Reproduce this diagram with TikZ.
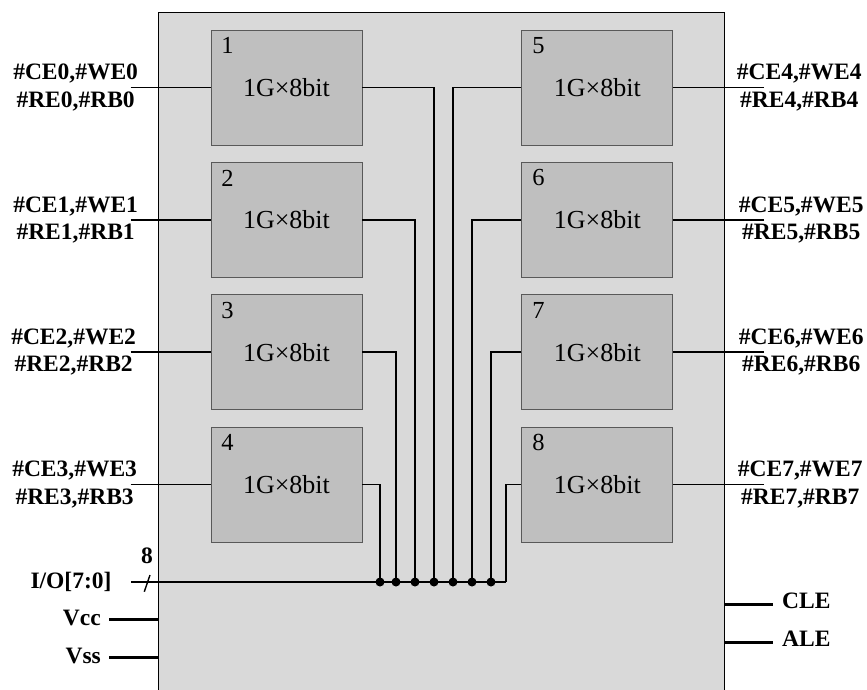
\documentclass[tikz,border=0pt]{standalone}
\usepackage{fontspec}
\setmainfont{Liberation Serif}
\usetikzlibrary{positioning}

\begin{document}
\begin{tikzpicture}[x=1pt,y=-1pt,
    chip/.style={rectangle,draw=black!65,fill=black!25,line width=0.8pt,minimum width=151pt,minimum height=115pt,inner sep=0pt,font=\fontsize{26}{28}\selectfont},
    num/.style={inner sep=0pt,font=\fontsize{24.5}{26}\selectfont},
    sig/.style={align=center,inner sep=0pt,font=\fontsize{23.5}{27.3}\selectfont\bfseries},
    wire/.style={line width=1.4pt},
    bus/.style={line width=2.8pt},
    pin/.style={line width=3pt},
    tap/.style={circle,fill=black,inner sep=0pt,minimum size=9pt}]
    \clip (0,0) rectangle (867,689);
    \draw[fill=black!15,line width=1pt] (158,12) rectangle (724,720);

    \node[chip] (1) at (286.5,87.5) {1G×8bit};
    \node[chip] (2) [below=16.5pt of 1] {1G×8bit};
    \node[chip] (3) [below=16.5pt of 2] {1G×8bit};
    \node[chip] (4) [below=16.5pt of 3] {1G×8bit};
    \node[chip] (5) [right=159pt of 1] {1G×8bit};
    \node[chip] (6) [below=16.5pt of 5] {1G×8bit};
    \node[chip] (7) [below=16.5pt of 6] {1G×8bit};
    \node[chip] (8) [below=16.5pt of 7] {1G×8bit};

    \node[num] at ([shift={(17,16)}]1.north west) {1};
    \node[num] at ([shift={(17,16)}]2.north west) {2};
    \node[num] at ([shift={(17,16)}]3.north west) {3};
    \node[num] at ([shift={(17,16)}]4.north west) {4};
    \node[num] at ([shift={(17,16)}]5.north west) {5};
    \node[num] at ([shift={(17,16)}]6.north west) {6};
    \node[num] at ([shift={(17,16)}]7.north west) {7};
    \node[num] at ([shift={(17,16)}]8.north west) {8};

    % chip enable / control lines
    \node[sig] (l1) at ([xshift=-135pt]1.west) {\#CE0,\#WE0\\\#RE0,\#RB0};
    \node[sig] (l2) at ([xshift=-135pt]2.west) {\#CE1,\#WE1\\\#RE1,\#RB1};
    \node[sig] (l3) at ([xshift=-137pt]3.west) {\#CE2,\#WE2\\\#RE2,\#RB2};
    \node[sig] (l4) at ([xshift=-136pt]4.west) {\#CE3,\#WE3\\\#RE3,\#RB3};
    \node[sig] (l5) at ([xshift=126pt]5.east) {\#CE4,\#WE4\\\#RE4,\#RB4};
    \node[sig] (l6) at ([xshift=128pt]6.east) {\#CE5,\#WE5\\\#RE5,\#RB5};
    \node[sig] (l7) at ([xshift=128pt]7.east) {\#CE6,\#WE6\\\#RE6,\#RB6};
    \node[sig] (l8) at ([xshift=127pt]8.east) {\#CE7,\#WE7\\\#RE7,\#RB7};

    \coordinate (w1) at ([xshift=-80pt]1.west);
    \coordinate (w2) at ([xshift=-80pt]2.west);
    \coordinate (w3) at ([xshift=-80pt]3.west);
    \coordinate (w4) at ([xshift=-80pt]4.west);
    \coordinate (w5) at ([xshift=91pt]5.east);
    \coordinate (w6) at ([xshift=91pt]6.east);
    \coordinate (w7) at ([xshift=91pt]7.east);
    \coordinate (w8) at ([xshift=91pt]8.east);
    \draw[wire] (w1) -- (1.west) (w2) -- (2.west) (w3) -- (3.west) (w4) -- (4.west);
    \draw[wire] (w5) -- (5.east) (w6) -- (6.east) (w7) -- (7.east) (w8) -- (8.east);

    % data bus
    \coordinate (io) at (131,582);
    \coordinate (t1) at (434,582);
    \coordinate (t2) at (415,582);
    \coordinate (t3) at (396,582);
    \coordinate (t4) at (380,582);
    \coordinate (t5) at (453,582);
    \coordinate (t6) at (472,582);
    \coordinate (t7) at (491,582);
    \coordinate (t8) at (506,582);
    \draw[wire] (1.east) -| (t1);
    \draw[wire] (2.east) -| (t2);
    \draw[wire] (3.east) -| (t3);
    \draw[wire] (4.east) -| (t4);
    \draw[wire] (5.west) -| (t5);
    \draw[wire] (6.west) -| (t6);
    \draw[wire] (7.west) -| (t7);
    \draw[wire] (8.west) -| (t8);
    \draw[bus] (io) -- (t8);
    \node[tap] at (t1) {};
    \node[tap] at (t2) {};
    \node[tap] at (t3) {};
    \node[tap] at (t4) {};
    \node[tap] at (t5) {};
    \node[tap] at (t6) {};
    \node[tap] at (t7) {};
    \draw[wire] (144.3,591.7) -- (150,575);
    \node[sig] (width) at (147,556) {8};
    \node[sig] (iolabel) at (71,582) {I/O[7:0]};

    % power and latch pins
    \node[sig,anchor=east] (vcc) at (101,618) {Vcc};
    \node[sig,anchor=east] (vss) at (101,656) {Vss};
    \node[sig,anchor=west] (cle) at (782,601) {CLE};
    \node[sig,anchor=west] (ale) at (782,639) {ALE};
    \coordinate (vccend) at (109,619);
    \coordinate (vssend) at (109,657);
    \coordinate (cleend) at (773,604);
    \coordinate (aleend) at (773,642);
    \draw[pin] (vccend) -- (158,619) (vssend) -- (158,657);
    \draw[pin] (724,604) -- (cleend) (724,642) -- (aleend);
  \end{tikzpicture}
\end{document}
